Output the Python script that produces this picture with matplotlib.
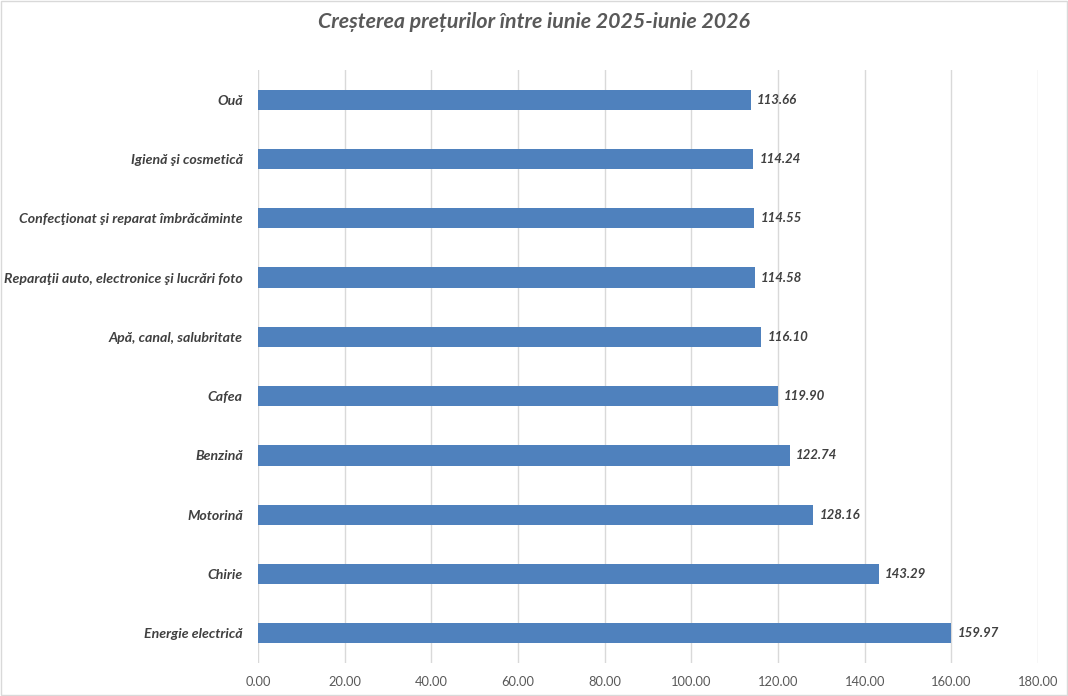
import matplotlib
matplotlib.use("Agg")
import matplotlib.pyplot as plt

categories = [
    "Energie electrică",
    "Chirie",
    "Motorină",
    "Benzină",
    "Cafea",
    "Apă, canal, salubritate",
    "Reparaţii auto, electronice şi lucrări foto",
    "Confecţionat şi reparat îmbrăcăminte",
    "Igienă şi cosmetică",
    "Ouă",
]
values = [159.97, 143.29, 128.16, 122.74, 119.90, 116.10, 114.58, 114.55, 114.24, 113.66]
x_ticks = [0, 20, 40, 60, 80, 100, 120, 140, 160, 180]

plt.rcParams['font.family'] = ['Lato', 'DejaVu Sans']

fig = plt.figure(figsize=(10.68, 6.96), dpi=100)
ax = fig.add_axes([0.2416, 0.0474, 0.7303, 0.852])

y = list(range(len(categories)))
ax.barh(y, values, height=0.34, color='#4F81BD', zorder=3)

for yi, v in zip(y, values):
    ax.annotate(f"{v:.2f}", xy=(v, yi), xytext=(4.5, 0), textcoords="offset points",
                va='center', ha='left', fontsize=9.5, fontweight='bold', fontstyle='italic',
                color='#404040')

ax.set_xlim(0, 180)
ax.set_ylim(-0.5, len(categories) - 0.5)
ax.set_xticks(x_ticks)
ax.set_xticklabels([f"{t:.2f}" for t in x_ticks], fontsize=9.3, color='#595959')
ax.set_yticks(y)
ax.set_yticklabels(categories, fontsize=10.2, fontweight='bold', fontstyle='italic', color='#404040')
ax.tick_params(axis='both', length=0)
ax.tick_params(axis='y', pad=11)
ax.tick_params(axis='x', pad=9)
ax.grid(axis='x', color='#D9D9D9', linewidth=1, zorder=0)
for s in ax.spines.values():
    s.set_visible(False)

fig.text(0.5, 0.968, "Creșterea prețurilor între iunie 2025-iunie 2026", ha='center', va='center',
         fontsize=15.4, fontweight='bold', fontstyle='italic', color='#595959')

border = plt.Rectangle((0.001, 0.001), 0.998, 0.998, transform=fig.transFigure,
                       fill=False, edgecolor='#D9D9D9', linewidth=1)
fig.patches.append(border)

fig.savefig("out.png", dpi=100)
